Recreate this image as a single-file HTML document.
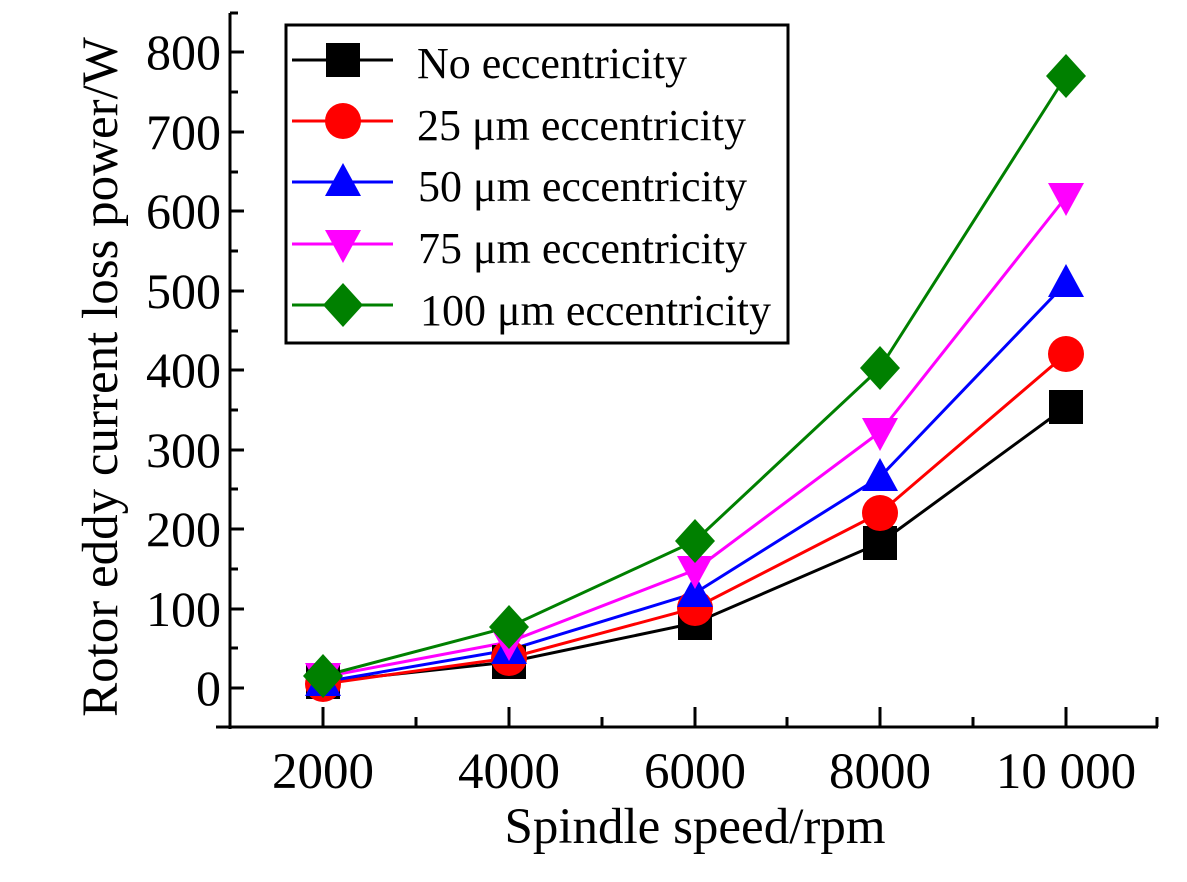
<!DOCTYPE html>
<html><head><meta charset="utf-8"><style>body{margin:0;background:#fff}</style></head><body>
<svg width="1187" height="877" xmlns="http://www.w3.org/2000/svg" font-family="Liberation Serif, serif">
<defs>
<rect id="sq" x="-17" y="-17" width="34" height="34" fill="#000"/>
<circle id="ci" r="18" fill="#f00"/>
<polygon id="tu" points="0,-19 18,14 -18,14" fill="#00f"/>
<polygon id="td" points="0,19 18,-14 -18,-14" fill="#f0f"/>
<polygon id="di" points="0,-22 20,0 0,22 -20,0" fill="#008000"/>
</defs>
<g stroke="#000" stroke-width="3" fill="none">
<line x1="230" y1="13" x2="230" y2="729"/>
<line x1="216" y1="727" x2="1158" y2="727"/>
<path d="M230 688h14M230 609h14M230 529h14M230 450h14M230 370h14M230 291h14M230 211h14M230 132h14M230 52h14M230 648h8M230 569h8M230 489h8M230 410h8M230 331h8M230 251h8M230 172h8M230 92h8M230 13h8"/>
<path d="M323 727v-20M509 727v-20M695 727v-20M880 727v-20M1066 727v-20M416 727v-10M602 727v-10M787 727v-10M973 727v-10M1157 727v-10"/>
</g>
<g font-size="50" text-anchor="end">
<text x="221" y="705">0</text><text x="221" y="626">100</text><text x="221" y="546">200</text><text x="221" y="467">300</text><text x="221" y="387">400</text><text x="221" y="308">500</text><text x="221" y="228">600</text><text x="221" y="149">700</text><text x="221" y="69">800</text>
</g>
<g font-size="51" text-anchor="middle">
<text x="323" y="788">2000</text><text x="509" y="788">4000</text><text x="695" y="788">6000</text><text x="880" y="788">8000</text><text x="1066" y="788">10 000</text>
<text x="695" y="843">Spindle speed/rpm</text>
<text transform="translate(117,377) rotate(-90)">Rotor eddy current loss power/W</text>
</g>
<g fill="none" stroke-width="3">
<polyline stroke="#000" points="323,682 509,662 695,623 880,543 1066,407"/>
<polyline stroke="#f00" points="323,684 509,658 695,608 880,513 1066,354"/>
<polyline stroke="#00f" points="323,682 509,650 695,593 880,477 1066,283"/>
<polyline stroke="#f0f" points="323,677 509,642 695,570 880,432 1066,197"/>
<polyline stroke="#008000" points="323,676 509,627 695,541 880,368 1066,76"/>
</g>
<g>
<use href="#sq" x="323" y="682"/><use href="#sq" x="509" y="662"/><use href="#sq" x="695" y="623"/><use href="#sq" x="880" y="543"/><use href="#sq" x="1066" y="407"/>
<use href="#ci" x="323" y="684"/><use href="#ci" x="509" y="658"/><use href="#ci" x="695" y="608"/><use href="#ci" x="880" y="513"/><use href="#ci" x="1066" y="354"/>
<use href="#tu" x="323" y="682"/><use href="#tu" x="509" y="650"/><use href="#tu" x="695" y="593"/><use href="#tu" x="880" y="477"/><use href="#tu" x="1066" y="283"/>
<use href="#td" x="323" y="677"/><use href="#td" x="509" y="642"/><use href="#td" x="695" y="570"/><use href="#td" x="880" y="432"/><use href="#td" x="1066" y="197"/>
<use href="#di" x="323" y="676"/><use href="#di" x="509" y="627"/><use href="#di" x="695" y="541"/><use href="#di" x="880" y="368"/><use href="#di" x="1066" y="76"/>
</g>
<rect x="286" y="25" width="502" height="318" fill="#fff" stroke="#000" stroke-width="3"/>
<g stroke-width="3">
<line x1="292" y1="60" x2="393" y2="60" stroke="#000"/><use href="#sq" x="343" y="60"/>
<line x1="292" y1="121" x2="393" y2="121" stroke="#f00"/><use href="#ci" x="343" y="121"/>
<line x1="292" y1="182" x2="393" y2="182" stroke="#00f"/><use href="#tu" x="343" y="182"/>
<line x1="292" y1="244" x2="393" y2="244" stroke="#f0f"/><use href="#td" x="343" y="244"/>
<line x1="292" y1="305" x2="393" y2="305" stroke="#008000"/><use href="#di" x="343" y="305"/>
</g>
<g font-size="44">
<text x="417" y="78">No eccentricity</text>
<text x="417" y="140">25 μm eccentricity</text>
<text x="418" y="201">50 μm eccentricity</text>
<text x="418" y="263">75 μm eccentricity</text>
<text x="420" y="325">100 μm eccentricity</text>
</g>
</svg>
</body></html>
